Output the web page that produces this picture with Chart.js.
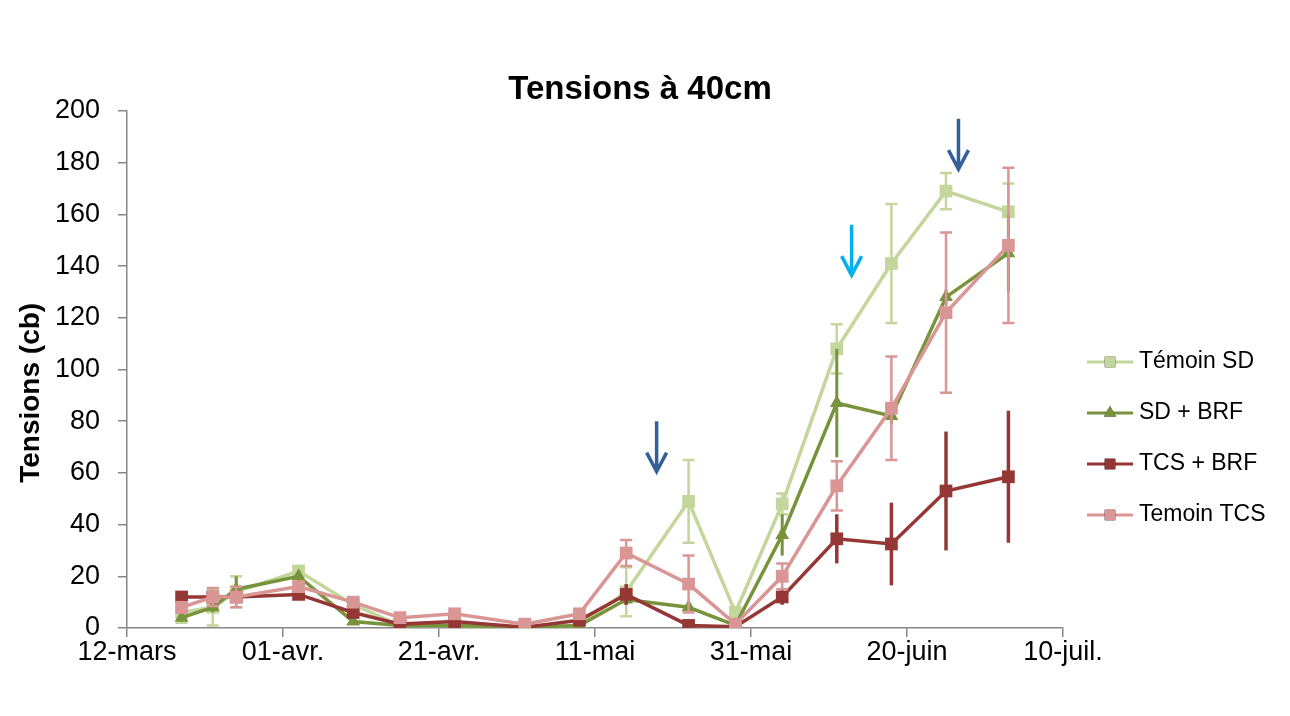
<!DOCTYPE html>
<html>
<head>
<meta charset="utf-8">
<script src="https://cdn.jsdelivr.net/npm/chart.js@4.4.0/dist/chart.umd.min.js"></script>
<style>
  html, body { margin: 0; padding: 0; background: #fff; }
  #canvas { display: block; }
</style>
</head>
<body>
<canvas id="canvas" width="1290" height="716"></canvas>
<script>
"use strict";

// sampling dates, as days counted from 12 March
const days = [7, 11, 14, 22, 29, 35, 42, 51, 58, 64, 72, 78, 84, 91, 98, 105, 113];
const dateTicks = ['12-mars', '01-avr.', '21-avr.', '11-mai', '31-mai', '20-juin', '10-juil.'];
const seriesNames = ['Témoin SD', 'SD + BRF', 'TCS + BRF', 'Temoin TCS'];

// tensions (cb) and their standard errors
const temoinSD     = [6, 8, 14, 22, 9, 1, 1, 0.5, 1, 14, 49, 6, 48, 108, 141, 169, 161];
const temoinSDErr  = [4, 7, 6, 2, 1, 0.5, 0.5, 0.3, 0.5, 9.5, 16, 1, 4, 9.5, 23, 7, 11];
const sdBRF        = [4, 8, 15, 20, 2.5, 1, 1, 0.3, 1, 11, 8, 1, 36, 87, 82, 128, 145];
const sdBRFErr     = [1.5, 2, 5, 2, 1, 0.5, 0.5, 0.3, 0.5, 2, 2, 0.5, 8, 21, 3, 3, 15];
const tcsBRF       = [12, 12, 12, 13, 6, 1.5, 2.5, 0.3, 3, 13, 1, 0.5, 12, 34.5, 32.5, 53, 58.5];
const tcsBRFErr    = [1, 1, 1, 1, 1, 0.5, 0.5, 0.3, 0.5, 4, 0.5, 0.3, 3, 9.5, 16, 23, 25.5];
const temoinTCS    = [8, 12, 12, 16, 10, 4, 5.5, 1.5, 5.5, 29, 17, 1.5, 20, 55, 85, 122, 148];
const temoinTCSErr = [2, 3.5, 4, 1, 1, 0.5, 0.5, 0.3, 0.5, 5, 11, 0.5, 5, 9.5, 20, 31, 30];

// irrigation arrows: day, value at tail, value at head
const arrowDays  = [67.9, 92.9, 106.6];
const arrowTails = [80, 156, 197];
const arrowHeads = [60.5, 136.5, 177.5];

const FONT = "'Liberation Sans', Arial, sans-serif";
const arrowColors = ['#34609A', '#00B0F0', '#34609A'];

function points(values) {
  return days.map(function(d, i) { return { x: d, y: values[i] }; });
}

function series(i, values, errors, color, style, radius, width, errWidth, caps, order) {
  return {
    label: seriesNames[i],
    data: points(values),
    errors: errors,
    errWidth: errWidth,
    caps: caps,
    borderColor: color,
    backgroundColor: color,
    borderWidth: width,
    pointStyle: style,
    pointRadius: radius,
    pointBorderWidth: 0,
    pointBackgroundColor: color,
    tension: 0,
    order: order
  };
}

// vertical error bars drawn under each series' own line
const errorBars = {
  id: 'errorBars',
  beforeDatasetDraw: function(chart, args) {
    const ds = chart.data.datasets[args.index];
    const y = chart.scales.y;
    const ctx = chart.ctx;
    ctx.save();
    ctx.strokeStyle = ds.borderColor;
    ctx.lineWidth = ds.errWidth;
    args.meta.data.forEach(function(pt, i) {
      const v = ds.data[i].y, e = ds.errors[i];
      const hi = y.getPixelForValue(v + e);
      const lo = y.getPixelForValue(Math.max(0, v - e));
      ctx.beginPath();
      ctx.moveTo(pt.x, hi);
      ctx.lineTo(pt.x, lo);
      if (ds.caps) {
        ctx.moveTo(pt.x - 6, hi); ctx.lineTo(pt.x + 6, hi);
        ctx.moveTo(pt.x - 6, lo); ctx.lineTo(pt.x + 6, lo);
      }
      ctx.stroke();
    });
    ctx.restore();
  }
};

// legend on the right side
const sideLegend = {
  id: 'sideLegend',
  afterDraw: function(chart) {
    const ctx = chart.ctx;
    const x0 = chart.chartArea.right + 24;
    ctx.save();
    chart.data.datasets.forEach(function(ds, i) {
      const yy = 362 + i * 51;
      ctx.strokeStyle = ds.borderColor;
      ctx.lineWidth = 3;
      ctx.beginPath();
      ctx.moveTo(x0, yy);
      ctx.lineTo(x0 + 46, yy);
      ctx.stroke();
      Chart.helpers.drawPoint(ctx, { pointStyle: ds.pointStyle, radius: ds.pointStyle === 'triangle' ? 7 : 7.5, borderWidth: 0 }, x0 + 23, yy);
      ctx.fillStyle = ds.borderColor;
      ctx.fill();
      ctx.fillStyle = '#000';
      ctx.font = '23px ' + FONT;
      ctx.textBaseline = 'middle';
      ctx.textAlign = 'left';
      ctx.fillText(ds.label, x0 + 52, yy);
    });
    ctx.restore();
  }
};

// downward arrows marking the irrigation dates
const arrowMarks = {
  id: 'arrowMarks',
  afterDraw: function(chart) {
    const ctx = chart.ctx;
    const xs = chart.scales.x, ys = chart.scales.y;
    ctx.save();
    ctx.lineWidth = 3.5;
    ctx.lineCap = 'butt';
    arrowDays.forEach(function(d, i) {
      const x = xs.getPixelForValue(d);
      const top = ys.getPixelForValue(arrowTails[i]);
      const tip = ys.getPixelForValue(arrowHeads[i]);
      ctx.strokeStyle = arrowColors[i];
      ctx.beginPath();
      ctx.moveTo(x, top);
      ctx.lineTo(x, tip - 2);
      ctx.moveTo(x - 10, tip - 19);
      ctx.lineTo(x, tip);
      ctx.lineTo(x + 10, tip - 19);
      ctx.stroke();
    });
    ctx.restore();
  }
};

const ctx = document.getElementById('canvas');

new Chart(ctx, {
  type: 'line',
  data: {
    datasets: [
      series(0, temoinSD, temoinSDErr, '#C3D69B', 'rect', 9, 3.5, 2.5, true, 4),
      series(1, sdBRF, sdBRFErr, '#77933C', 'triangle', 8, 3.5, 3, false, 3),
      series(2, tcsBRF, tcsBRFErr, '#953735', 'rect', 9, 3.5, 3.5, false, 2),
      series(3, temoinTCS, temoinTCSErr, '#D99694', 'rect', 9, 3.5, 2.5, true, 1)
    ]
  },
  plugins: [errorBars, sideLegend, arrowMarks],
  options: {
    responsive: false,
    animation: false,
    layout: { padding: { left: 0, right: 10, top: 0, bottom: 0 } },
    plugins: {
      legend: { display: false },
      tooltip: { enabled: false },
      title: {
        display: true,
        text: 'Tensions à 40cm',
        color: '#000',
        font: { family: FONT, size: 33, weight: 'bold' },
        padding: { top: 70, bottom: 1.4 }
      }
    },
    scales: {
      x: {
        type: 'linear',
        min: 0,
        max: 120,
        afterFit: function(s) { s.height = 88; },
        ticks: {
          stepSize: 20,
          color: '#000',
          padding: -1,
          maxRotation: 0,
          font: { family: FONT, size: 27 },
          callback: function(v) { return dateTicks[v / 20]; }
        },
        grid: { drawOnChartArea: false, tickLength: 9, color: '#868686', lineWidth: 1.5 },
        border: { color: '#868686', width: 1.5 }
      },
      y: {
        min: 0,
        max: 200,
        afterFit: function(s) { s.width = 127; },
        ticks: {
          stepSize: 20,
          color: '#000',
          padding: 18,
          font: { family: FONT, size: 27 }
        },
        title: {
          display: true,
          // trailing spaces push the label a little below the axis middle
          text: 'Tensions (cb)      ',
          color: '#000',
          padding: { top: 14 },
          font: { family: FONT, size: 28, weight: 'bold' }
        },
        grid: { drawOnChartArea: false, tickLength: 9, color: '#868686', lineWidth: 1.5 },
        border: { color: '#868686', width: 1.5 }
      },
      // keeps room on the right for the legend
      side: {
        type: 'linear',
        position: 'right',
        afterFit: function(s) { s.width = 217; },
        ticks: { display: false },
        grid: { display: false },
        border: { display: false }
      }
    }
  }
});
</script>
</body>
</html>
